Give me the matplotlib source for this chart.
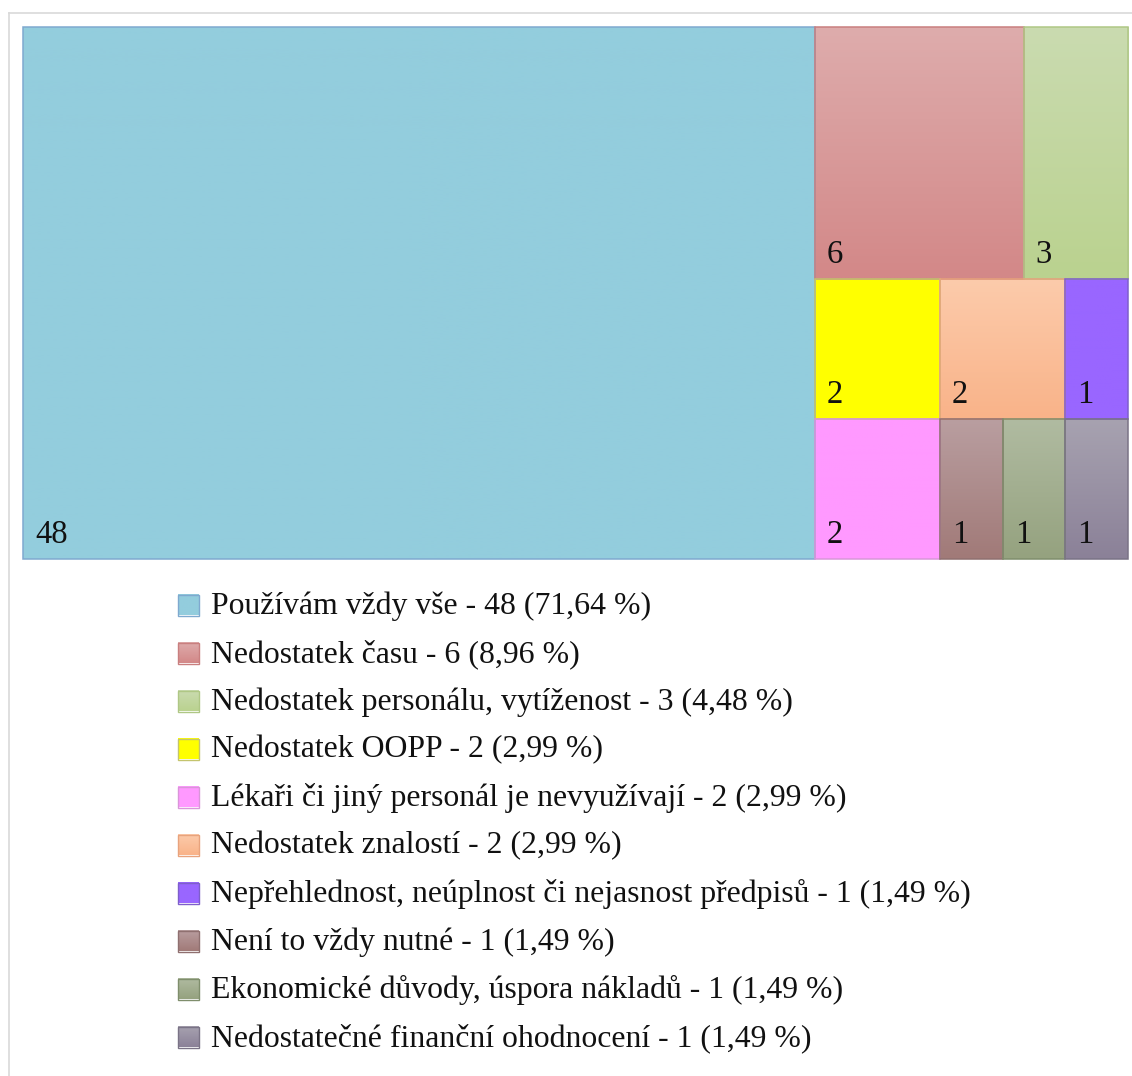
import numpy as np
import matplotlib
matplotlib.use("Agg")
import matplotlib.pyplot as plt
from matplotlib.colors import to_rgb
from matplotlib.patches import Rectangle

# Survey answers: reasons for not always using protective equipment
categories = [
    "Používám vždy vše",
    "Nedostatek času",
    "Nedostatek personálu, vytíženost",
    "Nedostatek OOPP",
    "Lékaři či jiný personál je nevyužívají",
    "Nedostatek znalostí",
    "Nepřehlednost, neúplnost či nejasnost předpisů",
    "Není to vždy nutné",
    "Ekonomické důvody, úspora nákladů",
    "Nedostatečné finanční ohodnocení",
]
counts = [48, 6, 3, 2, 2, 2, 1, 1, 1, 1]
percents = ["71,64", "8,96", "4,48", "2,99", "2,99", "2,99", "1,49", "1,49", "1,49", "1,49"]

# Fill gradients (top, bottom) and outline colours per category
fill_top = ["#93CDDD", "#DEACAC", "#CADBB0", "#FFFF00", "#FF99FF",
            "#FCCBAB", "#9966FF", "#B99EA0", "#B0BBA1", "#A7A2B0"]
fill_bot = ["#93CDDD", "#D38888", "#BAD28F", "#FFFF00", "#FF99FF",
            "#F9B389", "#9966FF", "#A17A78", "#95A27F", "#8B8198"]
edge_col = ["#7FA9CF", "#C97F7F", "#AFC785", "#C4C46E", "#D996D9",
            "#E8A37D", "#7E5FCB", "#8F7070", "#7F8E6C", "#7A7386"]

# Nesting of the slice-and-dice layout (indices into the lists above)
layout_tree = [0, [[1, 2], [[3, 4], [[5, 6], [7, 8, 9]]]]]

W_PX, H_PX = 1132, 1076
fig = plt.figure(figsize=(W_PX / 100, H_PX / 100), dpi=100)
ax = fig.add_axes([0, 0, 1, 1])
ax.set_xlim(0, W_PX)
ax.set_ylim(H_PX, 0)
ax.axis("off")

serif = ["Liberation Serif", "DejaVu Serif"]


def node_total(node):
    if isinstance(node, list):
        return sum(node_total(n) for n in node)
    return counts[node]


def gradient_rect(x, y, w, h, i):
    c0 = np.array(to_rgb(fill_top[i]))
    c1 = np.array(to_rgb(fill_bot[i]))
    t = np.linspace(0, 1, 64)[:, None]
    img = (c0 * (1 - t) + c1 * t)[:, None, :]
    ax.imshow(img, extent=(x, x + w, y + h, y), aspect="auto",
              interpolation="bilinear", zorder=1)


def draw_node(node, x, y, w, h, depth):
    if not isinstance(node, list):
        gradient_rect(x, y, w, h, node)
        ax.add_patch(Rectangle((x, y), w, h, fill=False, edgecolor=edge_col[node],
                               linewidth=1.1, zorder=2))
        ax.text(x + 12, y + h - 16, str(counts[node]), fontsize=23.5,
                family=serif, color="#111111", ha="left", va="baseline", zorder=3)
        return
    total = node_total(node)
    pos = 0.0
    for child in node:
        frac = node_total(child) / total
        if depth % 2 == 0:
            draw_node(child, x + pos * w, y, frac * w, h, depth + 1)
        else:
            draw_node(child, x, y + pos * h, w, frac * h, depth + 1)
        pos += frac


# Treemap area
draw_node(layout_tree, 23, 27, 1105, 532, 0)

# Outer frame lines (top and left)
ax.plot([8.5, W_PX], [12.5, 12.5], color="#D9D9D9", linewidth=1.2, zorder=0)
ax.plot([8.5, 8.5], [12.5, H_PX], color="#D9D9D9", linewidth=1.2, zorder=0)

# Legend
for i, (name, n, p) in enumerate(zip(categories, counts, percents)):
    yc = 605 + 48 * i
    gradient_rect(178, yc - 10.5, 21, 21, i)
    ax.add_patch(Rectangle((178, yc - 10.5), 21, 21, fill=False,
                           edgecolor=edge_col[i], linewidth=1.0, zorder=2))
    ax.text(211, yc + 1, f"{name} - {n} ({p} %)", fontsize=22.9, family=serif,
            color="#111111", ha="left", va="center", zorder=3)

fig.savefig("out.png", dpi=100, facecolor="white")
